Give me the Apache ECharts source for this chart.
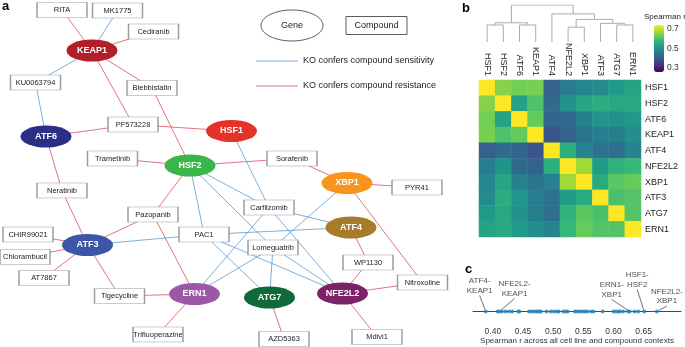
<!DOCTYPE html>
<html>
<head>
<meta charset="utf-8">
<script src="https://cdn.jsdelivr.net/npm/echarts@6/dist/echarts.min.js"></script>
<style>
html, body { margin: 0; padding: 0; background: #fff; }
#main { width: 685px; height: 347px; }
</style>
</head>
<body>
<div id="main"></div>
<script>
var FONT = 'Liberation Sans, Arial, Helvetica, sans-serif';

// ---- panel a: network ----
var genes = ['KEAP1', 'ATF6', 'HSF1', 'HSF2', 'XBP1', 'ATF4', 'ATF3', 'ERN1', 'ATG7', 'NFE2L2'];
var geneColors = ['#b31f29', '#2a2f85', '#e53228', '#3ab54a', '#f7941d', '#a67c2b', '#3c55a5', '#9c58a7', '#0f6a39', '#7d2267'];
var compounds = ['RITA', 'MK1775', 'Cediranib', 'KU0063794', 'Blebbistatin', 'PF573228', 'Trametinib',
	'Sorafenib', 'PYR41', 'Neratinib', 'Pazopanib', 'CHIR99021', 'Chlorambucil', 'AT7867', 'PAC1',
	'Carfilzomib', 'Lomeguatrib', 'WP1130', 'Nitroxoline', 'Tigecycline', 'Trifluoperazine', 'AZD5363', 'Mdivi1'];
// KO confers compound sensitivity
var sensEdges = [
	['KEAP1', 'MK1775'], ['KEAP1', 'KU0063794'], ['ATF6', 'KU0063794'], ['HSF1', 'Carfilzomib'],
	['HSF2', 'PAC1'], ['HSF2', 'Carfilzomib'], ['HSF2', 'Lomeguatrib'], ['ATF3', 'PAC1'],
	['ATF4', 'PAC1'], ['ATF4', 'Carfilzomib'], ['XBP1', 'Lomeguatrib'], ['ERN1', 'Carfilzomib'],
	['ERN1', 'Lomeguatrib'], ['ATG7', 'PAC1'], ['ATG7', 'Lomeguatrib'], ['NFE2L2', 'PAC1'],
	['NFE2L2', 'Carfilzomib'], ['NFE2L2', 'Lomeguatrib']
];
// KO confers compound resistance
var resEdges = [
	['KEAP1', 'RITA'], ['KEAP1', 'Cediranib'], ['KEAP1', 'Blebbistatin'], ['KEAP1', 'PF573228'],
	['ATF6', 'PF573228'], ['ATF6', 'Neratinib'], ['HSF1', 'PF573228'], ['HSF2', 'Blebbistatin'],
	['HSF2', 'Trametinib'], ['HSF2', 'Sorafenib'], ['HSF2', 'Pazopanib'], ['XBP1', 'Sorafenib'],
	['XBP1', 'PYR41'], ['XBP1', 'Nitroxoline'], ['ATF3', 'Neratinib'], ['ATF3', 'Pazopanib'],
	['ATF3', 'CHIR99021'], ['ATF3', 'Chlorambucil'], ['ATF3', 'AT7867'], ['ATF3', 'Tigecycline'],
	['ERN1', 'Pazopanib'], ['ERN1', 'Tigecycline'], ['ERN1', 'Trifluoperazine'], ['ATF4', 'WP1130'],
	['NFE2L2', 'WP1130'], ['NFE2L2', 'Nitroxoline'], ['NFE2L2', 'Mdivi1'], ['ATG7', 'AZD5363']
];
// hand layout of the network drawing
var nodePos = {
	KEAP1: [92, 50.5], ATF6: [46, 136.5], HSF1: [231.5, 131], HSF2: [190, 165.5], XBP1: [347, 183],
	ATF4: [351, 227.5], ATF3: [87.5, 245], ERN1: [194.5, 294], ATG7: [269.5, 297.5], NFE2L2: [342.5, 293.5],
	RITA: [62, 10], MK1775: [117.5, 10.5], Cediranib: [153.5, 31.5], KU0063794: [35.5, 82.5],
	Blebbistatin: [152, 88], PF573228: [133, 124.5], Trametinib: [112.5, 158.5], Sorafenib: [292, 158.5],
	PYR41: [417, 187.5], Neratinib: [62, 190.5], Pazopanib: [153, 214.5], CHIR99021: [28, 234.5],
	Chlorambucil: [25, 257], AT7867: [44, 278], PAC1: [204, 234.5], Carfilzomib: [269, 207.5],
	Lomeguatrib: [273, 247.5], WP1130: [368, 262.5], Nitroxoline: [422.5, 282.5], Tigecycline: [119.5, 296],
	Trifluoperazine: [158, 334.5], AZD5363: [284, 339], Mdivi1: [377, 337]
};

// ---- panel b / c: pairwise Spearman r ----
var heatGenes = ['HSF1', 'HSF2', 'ATF6', 'KEAP1', 'ATF4', 'NFE2L2', 'XBP1', 'ATF3', 'ATG7', 'ERN1'];
var pairs = [
	['KEAP1', 'ATF4', 0.388], ['HSF1', 'ATF4', 0.408], ['KEAP1', 'NFE2L2', 0.411], ['ATF6', 'ATF4', 0.415],
	['ATF6', 'NFE2L2', 0.421], ['HSF2', 'ATF4', 0.427], ['ATF4', 'ATG7', 0.432], ['KEAP1', 'XBP1', 0.442],
	['ATF4', 'ATF3', 0.444], ['HSF1', 'NFE2L2', 0.460], ['KEAP1', 'ATF3', 0.463], ['KEAP1', 'ATG7', 0.467],
	['ATF6', 'XBP1', 0.471], ['ATF4', 'XBP1', 0.474], ['ATF4', 'ERN1', 0.477], ['HSF1', 'XBP1', 0.480],
	['HSF1', 'ATF3', 0.489], ['KEAP1', 'ERN1', 0.496], ['ATF6', 'ATG7', 0.501], ['HSF2', 'NFE2L2', 0.506],
	['ATF6', 'ATF3', 0.509], ['ATF6', 'ERN1', 0.517], ['HSF1', 'ATG7', 0.521], ['NFE2L2', 'ATF3', 0.524],
	['HSF2', 'ATF6', 0.536], ['HSF1', 'ERN1', 0.539], ['HSF2', 'XBP1', 0.543], ['HSF2', 'ATG7', 0.546],
	['HSF2', 'ERN1', 0.550], ['XBP1', 'ATF3', 0.553], ['HSF2', 'ATF3', 0.557], ['ATF4', 'NFE2L2', 0.563],
	['NFE2L2', 'ATG7', 0.567], ['NFE2L2', 'ERN1', 0.582], ['ATF3', 'ATG7', 0.600], ['HSF2', 'KEAP1', 0.604],
	['ATF3', 'ERN1', 0.608], ['ATG7', 'ERN1', 0.611], ['XBP1', 'ATG7', 0.616], ['ATF6', 'KEAP1', 0.624],
	['XBP1', 'ERN1', 0.627], ['HSF1', 'ATF6', 0.635], ['HSF1', 'KEAP1', 0.641], ['HSF1', 'HSF2', 0.651],
	['NFE2L2', 'XBP1', 0.672]
];
// dendrogram merges: [left, right, height]; numbers refer to earlier merges
var merges = [
	['HSF1', 'HSF2', 0.46], ['ATF6', 'KEAP1', 0.46], [0, 1, 0.52],
	['NFE2L2', 'XBP1', 0.40], ['ATG7', 'ERN1', 0.46], ['ATF3', 4, 0.505],
	[3, 5, 0.61], ['ATF4', 6, 0.76], [2, 7, 1.0]
];
var stripTicks = [0.40, 0.45, 0.50, 0.55, 0.60, 0.65];
var stripLabels = [['ATF4', 'KEAP1'], ['NFE2L2', 'KEAP1'], ['ERN1', 'XBP1'], ['HSF1', 'HSF2'], ['NFE2L2', 'XBP1']];
var labelShift = [[-6, -14], [15, -11], [-18, -10], [-7, -20], [10, -3.5]];

var viridis = ['#440154', '#482878', '#3e4989', '#31688e', '#26828e', '#1f9e89', '#35b779', '#6ece58', '#b5de2b', '#fde725'];

// network nodes and links
var nodes = [];
genes.forEach(function(g, i) {
	nodes.push({
		name: g,
		value: nodePos[g],
		symbol: 'path://M0,10 A10,10 0 1,1 20,10 A10,10 0 1,1 0,10 Z',
		symbolSize: [51, 22],
		itemStyle: { color: geneColors[i] },
		label: { color: '#fff', fontWeight: 'bold', fontSize: 9 }
	});
});
compounds.forEach(function(c) {
	nodes.push({
		name: c,
		value: nodePos[c],
		symbol: 'rect',
		symbolSize: [50, 15],
		itemStyle: { color: '#fff', borderColor: '#9a9a9a', borderWidth: 0.8 },
		label: { color: '#222', fontSize: 7.5 }
	});
});
var links = [];
sensEdges.forEach(function(e) {
	links.push({ source: e[0], target: e[1], lineStyle: { color: '#5b9bd5' } });
});
resEdges.forEach(function(e) {
	links.push({ source: e[0], target: e[1], lineStyle: { color: '#d9505e' } });
});

// heatmap matrix
var rMap = {};
pairs.forEach(function(p) {
	rMap[p[0] + '|' + p[1]] = p[2];
	rMap[p[1] + '|' + p[0]] = p[2];
});
var heatData = [];
for (var i = 0; i < heatGenes.length; i++) {
	for (var j = 0; j < heatGenes.length; j++) {
		var v = i === j ? 1 : rMap[heatGenes[i] + '|' + heatGenes[j]];
		heatData.push([j, i, v]);
	}
}

// dendrogram polylines from merges
var mPos = [];
var dendro = [];
function leafPos(k) {
	if (typeof k === 'number') return mPos[k];
	return [heatGenes.indexOf(k) + 0.5, 0];
}
merges.forEach(function(m) {
	var a = leafPos(m[0]), b = leafPos(m[1]);
	dendro.push({ coords: [[a[0], a[1]], [a[0], m[2]], [b[0], m[2]], [b[0], b[1]]] });
	mPos.push([(a[0] + b[0]) / 2, m[2]]);
});

// strip points
var stripData = pairs.map(function(p) {
	var item = { name: p[0] + '-' + p[1], value: [p[2], 0] };
	for (var k = 0; k < stripLabels.length; k++) {
		var s = stripLabels[k];
		if ((s[0] === p[0] && s[1] === p[1]) || (s[0] === p[1] && s[1] === p[0])) {
			item.label = { show: true, formatter: s[0] + '-\n' + s[1] };
			item.shift = labelShift[k];
		}
	}
	return item;
});
var shiftByIndex = stripData.map(function(d) { return d.shift || [0, 0]; });

var chart = echarts.init(document.getElementById('main'));
var option = {
	backgroundColor: '#fff',
	animation: false,
	textStyle: { fontFamily: FONT },
	grid: [
		{ left: 0, top: 0, width: 460, height: 347 },
		{ left: 479, top: 5, width: 162, height: 37 },
		{ left: 479, top: 80, width: 162, height: 157 },
		{ left: 654, top: 29, width: 10, height: 39 },
		{ left: 473, top: 301.3, width: 208, height: 20.4 }
	],
	xAxis: [
		{ gridIndex: 0, type: 'value', min: 0, max: 460, show: false },
		{ gridIndex: 1, type: 'value', min: 0, max: 10, show: false },
		{
			gridIndex: 2, type: 'category', data: heatGenes, position: 'top',
			axisLine: { show: false }, axisTick: { show: false },
			axisLabel: { rotate: 90, fontSize: 9, color: '#222', margin: 4, interval: 0 }
		},
		{ gridIndex: 3, type: 'value', min: 0, max: 1, show: false },
		{
			gridIndex: 4, type: 'value', min: 0.367, max: 0.712,
			axisLine: { lineStyle: { color: '#444', width: 1 } },
			axisTick: { show: false },
			splitLine: { show: false },
			axisLabel: {
				customValues: stripTicks, fontSize: 8.5, color: '#333', margin: 5,
				formatter: function(v) { return v.toFixed(2); }
			},
			name: 'Spearman r across all cell line and compound contexts',
			nameLocation: 'middle', nameGap: 15,
			nameTextStyle: { fontSize: 8, color: '#333' }
		}
	],
	yAxis: [
		{ gridIndex: 0, type: 'value', min: 0, max: 347, inverse: true, show: false },
		{ gridIndex: 1, type: 'value', min: 0, max: 1, show: false },
		{
			gridIndex: 2, type: 'category', data: heatGenes, position: 'right', inverse: true,
			axisLine: { show: false }, axisTick: { show: false },
			axisLabel: { fontSize: 9, color: '#222', margin: 4 }
		},
		{
			gridIndex: 3, type: 'value', min: 0.3, max: 0.7, interval: 0.2, position: 'right',
			axisLine: { show: false }, axisTick: { show: false }, splitLine: { show: false },
			axisLabel: { fontSize: 8.5, color: '#333', margin: 3, formatter: function(v) { return v.toFixed(1); } }
		},
		{ gridIndex: 4, type: 'value', min: -1, max: 1, show: false }
	],
	visualMap: {
		type: 'continuous',
		seriesIndex: 2,
		min: 0.26,
		max: 0.74,
		orient: 'vertical',
		left: 654,
		top: 25,
		itemWidth: 10,
		itemHeight: 47,
		padding: 0,
		calculable: false,
		hoverLink: false,
		inRange: { color: viridis }
	},
	graphic: [
		{ type: 'text', left: 2, top: 0, style: { text: 'a', font: 'bold 13px ' + FONT, fill: '#000' } },
		{ type: 'text', left: 462, top: 2, style: { text: 'b', font: 'bold 13px ' + FONT, fill: '#000' } },
		{ type: 'text', left: 465, top: 263, style: { text: 'c', font: 'bold 13px ' + FONT, fill: '#000' } },
		{ type: 'ellipse', shape: { cx: 292, cy: 25.5, rx: 31, ry: 15.5 }, style: { fill: '#fff', stroke: '#333', lineWidth: 0.8 } },
		{ type: 'text', x: 292, y: 25.5, style: { text: 'Gene', font: '9px ' + FONT, fill: '#222', align: 'center', verticalAlign: 'middle' } },
		{ type: 'rect', shape: { x: 346, y: 16.5, width: 61, height: 18 }, style: { fill: '#fff', stroke: '#333', lineWidth: 0.8 } },
		{ type: 'text', x: 376.5, y: 25.5, style: { text: 'Compound', font: '9px ' + FONT, fill: '#222', align: 'center', verticalAlign: 'middle' } },
		{ type: 'line', shape: { x1: 256, y1: 61, x2: 298, y2: 61 }, style: { stroke: '#5b9bd5', lineWidth: 0.8 } },
		{ type: 'text', x: 303, y: 61, style: { text: 'KO confers compound sensitivity', font: '9px ' + FONT, fill: '#222', verticalAlign: 'middle' } },
		{ type: 'line', shape: { x1: 256, y1: 86, x2: 298, y2: 86 }, style: { stroke: '#d9505e', lineWidth: 0.8 } },
		{ type: 'text', x: 303, y: 86, style: { text: 'KO confers compound resistance', font: '9px ' + FONT, fill: '#222', verticalAlign: 'middle' } },
		{ type: 'text', x: 644, y: 17, style: { text: 'Spearman r', font: '8px ' + FONT, fill: '#222', verticalAlign: 'middle' } }
	],
	series: [
		{
			type: 'graph',
			layout: 'none',
			coordinateSystem: 'cartesian2d',
			xAxisIndex: 0,
			yAxisIndex: 0,
			silent: true,
			data: nodes,
			links: links,
			lineStyle: { width: 0.8, opacity: 1, curveness: 0 },
			label: { show: true, position: 'inside', fontFamily: FONT }
		},
		{
			type: 'lines',
			coordinateSystem: 'cartesian2d',
			xAxisIndex: 1,
			yAxisIndex: 1,
			polyline: true,
			silent: true,
			lineStyle: { color: '#acacac', width: 1, opacity: 1 },
			data: dendro
		},
		{
			type: 'heatmap',
			xAxisIndex: 2,
			yAxisIndex: 2,
			silent: true,
			data: heatData
		},
		{
			type: 'scatter',
			xAxisIndex: 4,
			yAxisIndex: 4,
			symbolSize: 4,
			silent: true,
			itemStyle: { color: '#2c7fb8' },
			label: { show: false, position: 'top', distance: 0, fontSize: 8, color: '#222', lineHeight: 9.5, align: 'center' },
			labelLine: { show: true, lineStyle: { color: '#333', width: 0.7 } },
			labelLayout: function(params) {
				var s = shiftByIndex[params.dataIndex];
				return { dx: s[0], dy: s[1] };
			},
			data: stripData
		}
	]
};
chart.setOption(option);
</script>
</body>
</html>
